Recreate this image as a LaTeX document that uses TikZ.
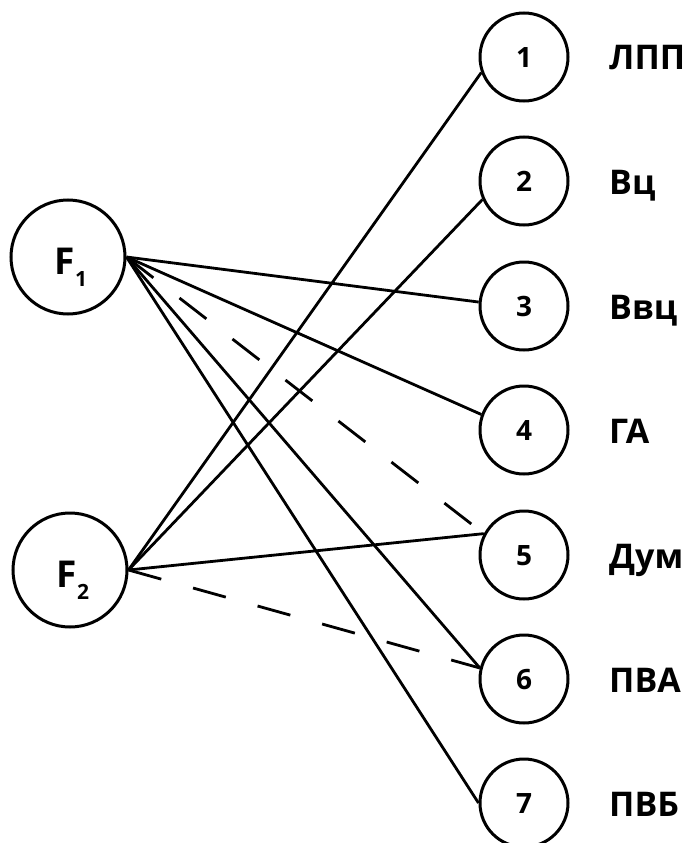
\documentclass[tikz,border=0pt]{standalone}
\usepackage{fontspec}
\setmainfont{Open Sans}
\begin{document}
\begin{tikzpicture}[x=1pt,y=-1pt]
    \useasboundingbox (0,0) rectangle (690,843);
    \tikzset{gap line/.style={dash pattern=on 34pt off 33pt}}

    \begin{scope}[every node/.style={circle, draw, line width=3pt, inner sep=0pt, font=\bfseries}]
        \node[minimum size=114pt] (F1) at (68,257) {};
        \node[minimum size=114pt] (F2) at (70,570) {};

        \node[minimum size=88pt] (1) at (524,57) {};
        \node[minimum size=88pt] (2) at (524,181) {};
        \node[minimum size=88pt] (3) at (524,306) {};
        \node[minimum size=88pt] (4) at (524,430) {};
        \node[minimum size=88pt] (5) at (524,555) {};
        \node[minimum size=88pt] (6) at (524,679) {};
        \node[minimum size=88pt] (7) at (524,803) {};
    \end{scope}

    \begin{scope}[every node/.style={inner sep=0pt, font=\fontsize{28}{28}\selectfont\bfseries, anchor=base}]
        \node at (524,67) {1};
        \node at (524,191) {2};
        \node at (524,316) {3};
        \node at (524,440) {4};
        \node at (524,565) {5};
        \node at (524,689) {6};
        \node at (524,813) {7};
    \end{scope}

    \begin{scope}[every node/.style={inner sep=0pt, font=\fontsize{34}{34}\selectfont\bfseries, anchor=base west}]
        \node at (609,70) {ЛПП};
        \node at (609,194) {Вц};
        \node at (609,319) {Ввц};
        \node at (609,443) {ГА};
        \node at (609,568) {Дум};
        \node at (609,692) {ПВА};
        \node at (609,816) {ПВБ};
    \end{scope}

    \begin{scope}[every node/.style={inner sep=0pt, font=\fontsize{37}{37}\selectfont\bfseries, anchor=base}]
        \node at (71,274) {F\raisebox{-12pt}{\fontsize{21}{21}\selectfont 1}};
        \node at (73,587) {F\raisebox{-12pt}{\fontsize{21}{21}\selectfont 2}};
    \end{scope}

    \begin{scope}[every edge/.style={draw, line width=2.8pt}]
        \path [-] (F1.east) edge (3.175);
        \path [-] (F1.east) edge (4.160);
        \path [-] (F1.east) edge[gap line] (5.152);
        \path [-] (F1.east) edge (6.166);
        \path [-] (F1.east) edge (7.180);

        \path [-] (F2.east) edge (1.200);
        \path [-] (F2.east) edge (2.204);
        \path [-] (F2.east) edge (5.152);
        \path [-] (F2.east) edge[gap line] (6.166);
    \end{scope}
\end{tikzpicture}
\end{document}
